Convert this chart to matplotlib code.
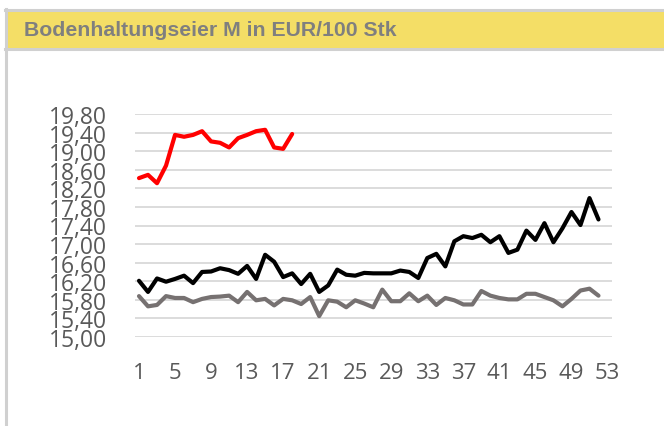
import numpy as np
import matplotlib.pyplot as plt
from matplotlib.patches import Rectangle
from matplotlib.lines import Line2D

# Wochenpreise Bodenhaltungseier M (EUR/100 Stk)
titel = "Bodenhaltungseier M in EUR/100 Stk"

preis_aktuell = [18.42, 18.49, 18.31, 18.69, 19.35, 19.31, 19.35, 19.43, 19.21,
                 19.18, 19.08, 19.28, 19.35, 19.43, 19.46, 19.08, 19.05, 19.37]

preis_vorjahr = [16.21, 15.97, 16.26, 16.19, 16.25, 16.32, 16.16, 16.40, 16.41,
                 16.48, 16.44, 16.36, 16.53, 16.25, 16.77, 16.62, 16.29, 16.37,
                 16.14, 16.36, 15.97, 16.11, 16.45, 16.34, 16.32, 16.38, 16.37,
                 16.37, 16.37, 16.43, 16.40, 16.27, 16.70, 16.79, 16.52, 17.06,
                 17.17, 17.13, 17.20, 17.04, 17.17, 16.81, 16.88, 17.29, 17.09,
                 17.45, 17.04, 17.34, 17.69, 17.41, 17.99, 17.53]

preis_vor2jahren = [15.88, 15.66, 15.69, 15.88, 15.84, 15.84, 15.75, 15.82, 15.86,
                    15.87, 15.89, 15.75, 15.97, 15.79, 15.82, 15.68, 15.82, 15.79,
                    15.71, 15.86, 15.45, 15.79, 15.76, 15.64, 15.79, 15.72, 15.64,
                    16.02, 15.77, 15.77, 15.94, 15.77, 15.89, 15.69, 15.84, 15.79,
                    15.70, 15.70, 15.99, 15.89, 15.84, 15.81, 15.81, 15.93, 15.93,
                    15.86, 15.79, 15.66, 15.82, 16.00, 16.04, 15.89]

wochen_ticks = list(range(1, 54, 4))
y_ticks = np.arange(15.0, 19.81, 0.4)

fig = plt.figure(figsize=(6.64, 4.27), dpi=100)

# Rahmen und gelbe Titelleiste
rand = '#D0D0D0'
fig.patches.append(Rectangle((7 / 664, 1 - 50 / 427), 1, 38 / 427, transform=fig.transFigure,
                             facecolor='#F4DE66', edgecolor='none'))
fig.lines.append(Line2D([5 / 664, 1], [1 - 11 / 427] * 2, transform=fig.transFigure, color=rand, lw=2.2))
fig.lines.append(Line2D([5 / 664, 1], [1 - 50 / 427] * 2, transform=fig.transFigure, color=rand, lw=2.2))
fig.lines.append(Line2D([6 / 664] * 2, [0, 1 - 10 / 427], transform=fig.transFigure, color=rand, lw=2.2))
fig.text(24 / 664, 1 - 31 / 427, titel, fontsize=15.3, fontweight='bold', color='#7F7F7F',
         family='Liberation Sans', va='center', ha='left')

ax = fig.add_axes([134.5 / 664, 1 - 338 / 427, (612 - 134.5) / 664, (338 - 115) / 427])

x_vorjahr = np.arange(1, len(preis_vorjahr) + 1)
x_vor2 = np.arange(1, len(preis_vor2jahren) + 1)
x_akt = np.arange(1, len(preis_aktuell) + 1)

ax.plot(x_vor2, preis_vor2jahren, color='#767171', lw=3, solid_joinstyle='round', solid_capstyle='round')
ax.plot(x_vorjahr, preis_vorjahr, color='black', lw=3, solid_joinstyle='round', solid_capstyle='round')
ax.plot(x_akt, preis_aktuell, color='#FF0000', lw=3, solid_joinstyle='round', solid_capstyle='round')

ax.set_xlim(0.5, 53.5)
ax.set_ylim(15.0, 19.8)
ax.set_yticks(y_ticks)
ax.set_yticklabels([f"{v:.2f}".replace('.', ',') for v in y_ticks])
ax.set_xticks(wochen_ticks)
ax.set_xticklabels([str(w) for w in wochen_ticks])
ax.grid(axis='y', color='#D9D9D9', lw=1.3)
ax.set_axisbelow(True)
for s in ax.spines.values():
    s.set_visible(False)
ax.tick_params(axis='y', length=0, pad=20, labelsize=16.5, labelcolor='#595959')
ax.tick_params(axis='x', length=0, pad=18, labelsize=16, labelcolor='#595959')
for lab in ax.get_xticklabels() + ax.get_yticklabels():
    lab.set_family('Open Sans')

plt.savefig('out.png', dpi=100)
